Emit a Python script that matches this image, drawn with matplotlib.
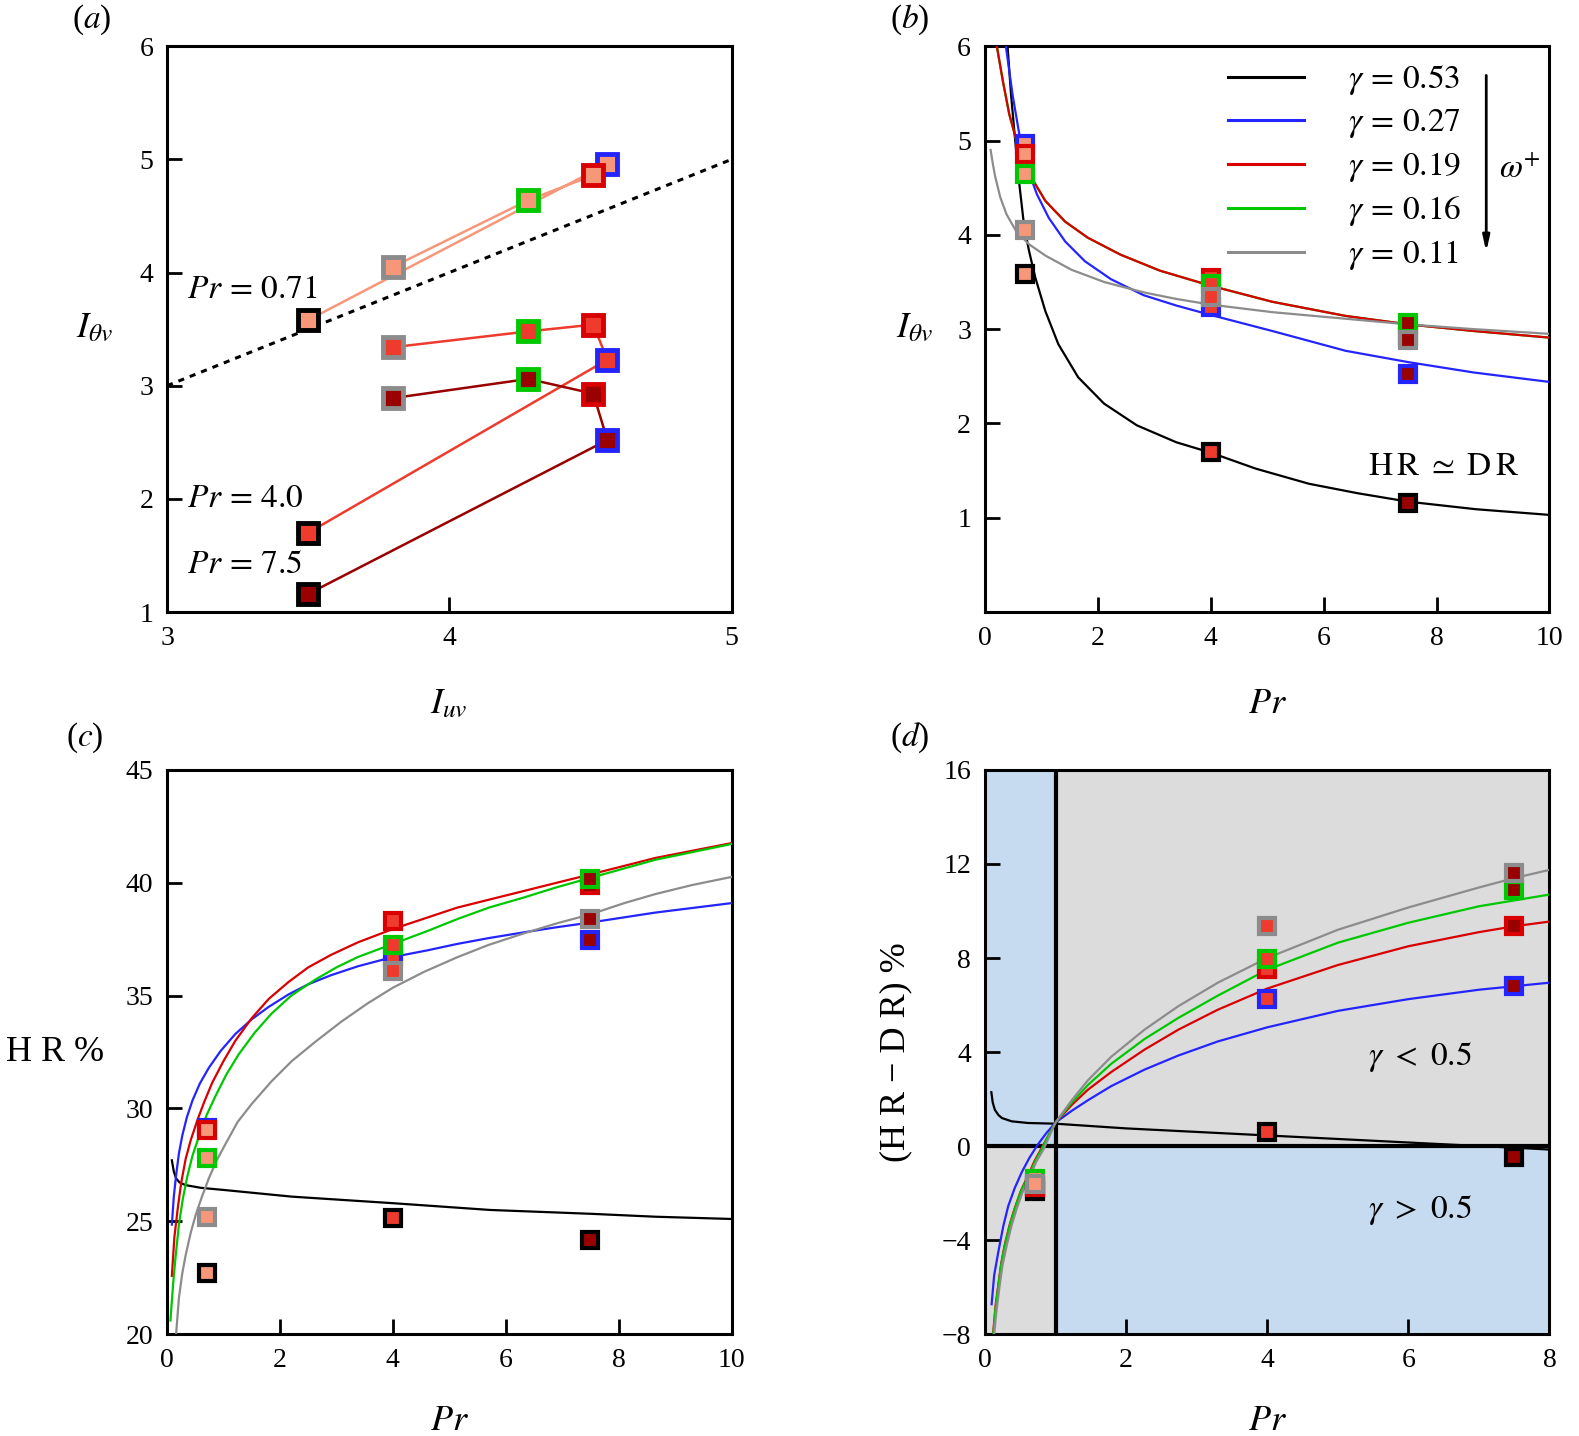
import numpy as np
import matplotlib
matplotlib.use('Agg')
import matplotlib.pyplot as plt
from matplotlib.lines import Line2D
from matplotlib.patches import Rectangle

plt.rcParams['font.family'] = ['Liberation Serif', 'DejaVu Serif']
plt.rcParams['mathtext.fontset'] = 'stix'

# cases, ordered by decreasing gamma
gammas = [0.53, 0.27, 0.19, 0.16, 0.11]
edge_colors = ['black', '#2424FF', '#D80000', '#00C800', '#8C8C8C']
pr_values = [0.71, 4.0, 7.5]
fill_colors = ['#F7977A', '#EE3B2E', '#990000']

# panel (a)/(b): I_uv and I_theta_v per gamma, one list per Pr
iuv = [3.50, 4.56, 4.51, 4.28, 3.80]
itv_071 = [3.58, 4.96, 4.86, 4.64, 4.05]
itv_40 = [1.70, 3.23, 3.54, 3.48, 3.34]
itv_75 = [1.16, 2.52, 2.93, 3.06, 2.89]

# panel (c): HR %
hr_071 = [22.7, 29.15, 29.05, 27.8, 25.2]
hr_40 = [25.15, 36.7, 38.3, 37.25, 36.1]
hr_75 = [24.15, 37.45, 39.9, 40.15, 38.4]

# panel (d): HR - DR %
hrdr_071 = [-1.9, -1.7, -1.75, -1.4, -1.6]
hrdr_40 = [0.6, 6.25, 7.55, 7.95, 9.35]
hrdr_75 = [-0.48, 6.8, 9.35, 10.9, 11.6]

# fitted curves: (Pr, value)
b_black = [(0.40, 6.0), (0.46, 5.5), (0.52, 5.10), (0.61, 4.53), (0.69, 4.11), (0.78, 3.83),
           (0.89, 3.55), (1.07, 3.19), (1.30, 2.84), (1.65, 2.49), (2.11, 2.21), (2.69, 1.98),
           (3.39, 1.80), (4.0, 1.69), (4.8, 1.52), (5.74, 1.36), (6.6, 1.26), (7.5, 1.17),
           (8.7, 1.09), (10.0, 1.03)]
b_blue = [(0.37, 6.0), (0.43, 5.74), (0.49, 5.48), (0.61, 5.06), (0.75, 4.71), (0.92, 4.43),
          (1.13, 4.18), (1.42, 3.93), (1.77, 3.72), (2.23, 3.53), (2.81, 3.36), (3.39, 3.25),
          (4.0, 3.15), (5.09, 2.98), (6.39, 2.77), (7.5, 2.65), (8.66, 2.54), (10.0, 2.44)]
b_red = [(0.21, 6.0), (0.32, 5.62), (0.43, 5.28), (0.58, 4.95), (0.78, 4.65), (1.07, 4.36),
         (1.42, 4.14), (1.82, 3.97), (2.40, 3.79), (3.10, 3.62), (4.0, 3.46), (5.09, 3.29),
         (6.39, 3.14), (7.5, 3.05), (8.66, 2.98), (10.0, 2.91)]
b_green = [(0.21, 6.0), (0.32, 5.62), (0.43, 5.28), (0.58, 4.95), (0.78, 4.65), (1.07, 4.36),
           (1.42, 4.14), (1.82, 3.97), (2.40, 3.79), (3.10, 3.62), (4.0, 3.46), (5.09, 3.29),
           (6.39, 3.14), (7.5, 3.05), (8.66, 2.98), (10.0, 2.91)]
b_gray = [(0.10, 4.90), (0.14, 4.75), (0.18, 4.62), (0.27, 4.40), (0.38, 4.22), (0.55, 4.04),
          (0.78, 3.90), (1.07, 3.78), (1.53, 3.63), (2.11, 3.50), (2.81, 3.39), (3.39, 3.32),
          (4.0, 3.26), (5.09, 3.18), (6.39, 3.11), (7.5, 3.05), (8.66, 3.0), (10.0, 2.95)]

c_black = [(0.085, 27.7), (0.12, 27.2), (0.16, 26.9), (0.22, 26.72), (0.33, 26.6), (0.6, 26.48),
           (1.03, 26.38), (2.21, 26.09), (4.0, 25.8), (5.72, 25.5), (7.5, 25.33), (8.65, 25.2),
           (10.0, 25.1)]
c_blue = [(0.085, 24.85), (0.12, 26.1), (0.16, 27.04), (0.21, 28.0), (0.27, 28.8), (0.35, 29.6),
          (0.45, 30.35), (0.58, 31.1), (0.74, 31.8), (0.95, 32.55), (1.21, 33.3), (1.5, 33.95),
          (1.80, 34.5), (2.15, 35.05), (2.5, 35.5), (2.9, 35.9), (3.38, 36.3), (4.0, 36.71),
          (4.6, 37.0), (5.14, 37.29), (5.7, 37.55), (6.31, 37.80), (6.9, 38.03), (7.5, 38.24),
          (8.65, 38.68), (10.0, 39.1)]
c_red = [(0.085, 22.58), (0.13, 24.3), (0.19, 25.58), (0.25, 26.7), (0.33, 27.77), (0.42, 28.6),
         (0.54, 29.5), (0.66, 30.3), (0.80, 31.14), (1.0, 32.1), (1.21, 33.0), (1.5, 34.0),
         (1.80, 34.85), (2.15, 35.6), (2.5, 36.25), (2.9, 36.8), (3.38, 37.36), (4.0, 37.95),
         (4.6, 38.45), (5.14, 38.9), (5.7, 39.25), (6.31, 39.63), (6.9, 40.0), (7.5, 40.37),
         (8.65, 41.1), (10.0, 41.76)]
c_green = [(0.06, 20.6), (0.08, 21.3), (0.11, 22.3), (0.15, 23.4), (0.21, 24.85), (0.28, 26.0),
           (0.36, 27.0), (0.45, 27.9), (0.57, 28.8), (0.7, 29.7), (0.86, 30.56), (1.05, 31.5),
           (1.27, 32.4), (1.55, 33.35), (1.85, 34.2), (2.2, 35.0), (2.62, 35.7), (3.0, 36.25),
           (3.38, 36.71), (4.0, 37.29), (4.6, 37.85), (5.14, 38.39), (5.7, 38.9), (6.31, 39.34),
           (6.9, 39.8), (7.5, 40.22), (8.65, 41.02), (10.0, 41.72)]
c_gray = [(0.16, 20.0), (0.21, 21.6), (0.27, 22.7), (0.33, 23.5), (0.42, 24.5), (0.51, 25.3),
          (0.62, 26.1), (0.74, 26.9), (0.88, 27.7), (1.03, 28.4), (1.25, 29.4), (1.50, 30.2),
          (1.85, 31.2), (2.21, 32.1), (2.65, 33.0), (3.09, 33.85), (3.55, 34.65), (4.0, 35.35),
          (4.55, 36.05), (5.14, 36.7), (5.7, 37.25), (6.31, 37.75), (6.9, 38.2), (7.5, 38.6),
          (8.1, 39.1), (8.65, 39.5), (9.3, 39.9), (10.0, 40.26)]

d_black = [(0.09, 2.29), (0.11, 1.85), (0.14, 1.54), (0.19, 1.32), (0.24, 1.19), (0.38, 1.05),
           (0.61, 0.98), (1.0, 0.95), (2.0, 0.75), (3.0, 0.6), (4.0, 0.45), (5.0, 0.3),
           (6.0, 0.15), (7.0, 0.0), (7.5, -0.07), (8.0, -0.15)]
d_blue = [(0.094, -6.73), (0.13, -5.5), (0.19, -4.49), (0.26, -3.4), (0.33, -2.55), (0.42, -1.8),
          (0.52, -1.12), (0.63, -0.5), (0.75, 0.07), (0.87, 0.55), (1.0, 1.0), (1.23, 1.5),
          (1.46, 1.95), (1.79, 2.55), (2.26, 3.25), (2.74, 3.85), (3.3, 4.45), (4.0, 5.05),
          (5.0, 5.75), (6.0, 6.25), (7.0, 6.65), (7.5, 6.8), (8.0, 6.95)]
d_red = [(0.118, -7.9), (0.15, -6.8), (0.19, -5.89), (0.23, -5.0), (0.28, -4.2), (0.35, -3.35),
         (0.42, -2.66), (0.51, -1.9), (0.61, -1.26), (0.70, -0.65), (0.80, -0.1), (0.9, 0.45),
         (1.0, 1.0), (1.23, 1.75), (1.46, 2.4), (1.79, 3.15), (2.26, 4.1), (2.74, 4.95),
         (3.3, 5.8), (4.0, 6.7), (5.0, 7.7), (6.0, 8.5), (7.0, 9.1), (7.5, 9.35), (8.0, 9.55)]
d_green = [(0.12, -7.95), (0.15, -6.9), (0.19, -5.95), (0.23, -5.05), (0.28, -4.25), (0.35, -3.4),
           (0.42, -2.7), (0.51, -1.92), (0.62, -1.25), (0.71, -0.65), (0.81, -0.1), (0.9, 0.45),
           (1.0, 1.0), (1.23, 1.85), (1.46, 2.6), (1.79, 3.5), (2.26, 4.55), (2.74, 5.45),
           (3.3, 6.4), (4.0, 7.5), (5.0, 8.65), (6.0, 9.5), (7.0, 10.2), (7.5, 10.45), (8.0, 10.7)]
d_gray = [(0.13, -8.0), (0.16, -7.1), (0.21, -5.89), (0.25, -5.05), (0.31, -4.2), (0.38, -3.35),
          (0.45, -2.66), (0.54, -1.9), (0.64, -1.26), (0.73, -0.65), (0.83, -0.14), (0.91, 0.4),
          (1.0, 1.0), (1.23, 1.95), (1.46, 2.8), (1.79, 3.8), (2.26, 4.95), (2.74, 5.95),
          (3.3, 6.95), (4.0, 8.0), (5.0, 9.2), (6.0, 10.15), (7.0, 11.0), (7.5, 11.4), (8.0, 11.75)]

b_curves = [b_black, b_blue, b_green, b_red, b_gray]
b_curve_colors = [edge_colors[0], edge_colors[1], edge_colors[3], edge_colors[2], edge_colors[4]]
c_curves = [c_black, c_blue, c_red, c_green, c_gray]
d_curves = [d_black, d_blue, d_red, d_green, d_gray]

TICK_FS = 20
LABEL_FS = 26
NOTE_FS = 24


def style_axes(ax):
    for s in ax.spines.values():
        s.set_linewidth(2.2)
    ax.tick_params(direction='in', length=11, width=2, labelsize=TICK_FS, pad=10,
                   top=False, right=False)


def draw_markers(ax, values_by_pr, xs=None, ms=12, mew=3):
    for k, vals in enumerate(values_by_pr):
        for g in range(len(gammas)):
            x = xs[g] if xs is not None else pr_values[k]
            ax.plot(x, vals[g], 's', ms=ms, mfc=fill_colors[k], mec=edge_colors[g],
                    mew=mew, zorder=4)


def draw_curves(ax, curves, colors):
    for crv, col in zip(curves, colors):
        arr = np.array(crv)
        ax.plot(arr[:, 0], arr[:, 1], '-', color=col, lw=1.6, zorder=3,
                solid_joinstyle='round')


fig = plt.figure(figsize=(15.79, 14.36), dpi=100)
w = 0.3575
h = 0.394
ax_a = fig.add_axes([0.1058, 0.5738, w, h])
ax_b = fig.add_axes([0.6238, 0.5738, w, h])
ax_c = fig.add_axes([0.1058, 0.0710, w, 0.3928])
ax_d = fig.add_axes([0.6238, 0.0710, w, 0.3928])

# ---- (a)
ax = ax_a
style_axes(ax)
ax.plot([3, 5], [3, 5], color='black', lw=2.2, ls=(0, (2, 2)), zorder=2)
for k, vals in enumerate([itv_071, itv_40, itv_75]):
    ax.plot(iuv, vals, '-', color=fill_colors[k], lw=1.8, zorder=3)
draw_markers(ax, [itv_071, itv_40, itv_75], xs=iuv, ms=15, mew=3.5)
ax.set_xlim(3, 5)
ax.set_ylim(1, 6)
ax.set_xticks([3, 4, 5])
ax.set_yticks([1, 2, 3, 4, 5, 6])
ax.set_xlabel(r'$I_{uv}$', fontsize=LABEL_FS)
ax.xaxis.set_label_coords(0.5, -0.135)
ax.set_ylabel(r'$I_{\theta v}$', fontsize=LABEL_FS, rotation=0, va='center')
ax.yaxis.set_label_coords(-0.128, 0.5)
ax.text(3.07, 3.85, r'$Pr\,=\,0.71$', fontsize=NOTE_FS, va='center', ha='left')
ax.text(3.07, 2.00, r'$Pr\,=\,4.0$', fontsize=NOTE_FS, va='center', ha='left')
ax.text(3.07, 1.42, r'$Pr\,=\,7.5$', fontsize=NOTE_FS, va='center', ha='left')

# ---- (b)
ax = ax_b
style_axes(ax)
draw_curves(ax, b_curves, b_curve_colors)
draw_markers(ax, [itv_071, itv_40, itv_75])
ax.set_xlim(0, 10)
ax.set_ylim(0, 6)
ax.set_xticks([0, 2, 4, 6, 8, 10])
ax.set_yticks([1, 2, 3, 4, 5, 6])
ax.set_xlabel(r'$Pr$', fontsize=LABEL_FS)
ax.xaxis.set_label_coords(0.5, -0.135)
ax.set_ylabel(r'$I_{\theta v}$', fontsize=LABEL_FS, rotation=0, va='center')
ax.yaxis.set_label_coords(-0.124, 0.5)
handles = [Line2D([], [], color=c, lw=2.2) for c in edge_colors]
labels = [r'$\gamma\,=\,%.2f$' % g for g in gammas]
ax.legend(handles, labels, loc='upper left', bbox_to_anchor=(0.43, 0.97), frameon=False,
          fontsize=NOTE_FS, handlelength=2.3, handletextpad=1.3, labelspacing=0.3,
          borderpad=0, borderaxespad=0)
ax.annotate('', xy=(8.88, 3.79), xytext=(8.88, 5.72),
            arrowprops=dict(arrowstyle='-|>,head_width=0.2,head_length=0.9', color='black', lw=2))
ax.text(9.47, 4.69, r'$\omega^{+}$', fontsize=NOTE_FS, ha='center', va='center')
ax.text(8.12, 1.54, r'$\mathrm{H\,R}\ \simeq\ \mathrm{D\,R}$', fontsize=NOTE_FS,
        ha='center', va='center')

# ---- (c)
ax = ax_c
style_axes(ax)
draw_curves(ax, c_curves, edge_colors)
draw_markers(ax, [hr_071, hr_40, hr_75])
ax.set_xlim(0, 10)
ax.set_ylim(20, 45)
ax.set_xticks([0, 2, 4, 6, 8, 10])
ax.set_yticks([20, 25, 30, 35, 40, 45])
ax.set_xlabel(r'$Pr$', fontsize=LABEL_FS)
ax.xaxis.set_label_coords(0.5, -0.125)
ax.set_ylabel('H R %', fontsize=LABEL_FS, rotation=0, va='center')
ax.yaxis.set_label_coords(-0.199, 0.5)

# ---- (d)
ax = ax_d
style_axes(ax)
blue_bg = '#C6DBEF'
gray_bg = '#DCDCDC'
ax.add_patch(Rectangle((0, 0), 1, 16, color=blue_bg, zorder=0, lw=0))
ax.add_patch(Rectangle((1, 0), 7, 16, color=gray_bg, zorder=0, lw=0))
ax.add_patch(Rectangle((0, -8), 1, 8, color=gray_bg, zorder=0, lw=0))
ax.add_patch(Rectangle((1, -8), 7, 8, color=blue_bg, zorder=0, lw=0))
ax.axvline(1, color='black', lw=3, zorder=2)
ax.axhline(0, color='black', lw=3, zorder=2)
draw_curves(ax, d_curves, edge_colors)
draw_markers(ax, [hrdr_071, hrdr_40, hrdr_75])
ax.set_xlim(0, 8)
ax.set_ylim(-8, 16)
ax.set_xticks([0, 2, 4, 6, 8])
ax.set_yticks([-8, -4, 0, 4, 8, 12, 16])
ax.set_yticklabels(['\u22128', '\u22124', '0', '4', '8', '12', '16'])
ax.set_xlabel(r'$Pr$', fontsize=LABEL_FS)
ax.xaxis.set_label_coords(0.5, -0.125)
ax.set_ylabel('(H R \u2212 D R) %', fontsize=LABEL_FS)
ax.yaxis.set_label_coords(-0.129, 0.5)
ax.text(6.16, 3.79, r'$\gamma\ <\ 0.5$', fontsize=NOTE_FS, ha='center', va='center')
ax.text(6.16, -2.72, r'$\gamma\ >\ 0.5$', fontsize=NOTE_FS, ha='center', va='center')

# panel letters
fig.text(0.058, 0.986, r'($a$)', fontsize=24, ha='center', va='center')
fig.text(0.576, 0.986, r'($b$)', fontsize=24, ha='center', va='center')
fig.text(0.054, 0.486, r'($c$)', fontsize=24, ha='center', va='center')
fig.text(0.576, 0.486, r'($d$)', fontsize=24, ha='center', va='center')

fig.savefig('out.png', dpi=100)
